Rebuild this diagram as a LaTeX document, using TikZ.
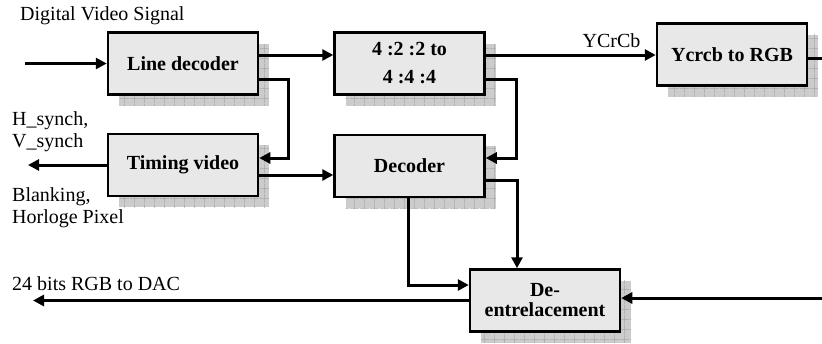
\documentclass[tikz,border=0pt]{standalone}
\usepackage{fontspec}
\setmainfont{Liberation Serif}
\usetikzlibrary{arrows.meta,patterns.meta}

\tikzdeclarepattern{
  name=shadowgrid,
  type=uncolored,
  bounding box={(0pt,0pt) and (10pt,10pt)},
  tile size={(10pt,10pt)},
  code={\draw[line width=0.7pt] (0pt,5pt) -- (10pt,5pt) (5pt,0pt) -- (5pt,10pt);}
}

\tikzset{
  block/.style={draw, line width=2.5pt, fill=gray!18, minimum width=150pt, minimum height=62pt,
    inner sep=2pt, align=center, font=\fontsize{20}{20}\selectfont\bfseries,
    preaction={fill=gray!40, transform canvas={shift={(11pt,-11pt)}}},
    preaction={pattern=shadowgrid, pattern color=gray!70, transform canvas={shift={(11pt,-11pt)}}}},
  sig/.style={line width=3pt, -{Triangle[length=11pt,width=11pt]}},
  lbl/.style={font=\fontsize{20}{22}\selectfont, inner sep=0pt, align=left}
}

\begin{document}
\begin{tikzpicture}[x=1pt, y=-1pt]
    \useasboundingbox (0,0) rectangle (822,343);

    % Blocks.
    \node[block] (line) at (183,63.5) {Line decoder};
    \node[block] (conv) at (409.5,63.5) {4 :2 :2 to\\[8pt]4 :4 :4};
    \node[block] (ycrcb) at (732,54.5) {Ycrcb to RGB};
    \node[block] (timing) at (183,165) {Timing video};
    \node[block] (dec) at (409.5,166) {Decoder};
    \node[block] (deint) at (545,300.5) {De-\\entrelacement};

    % Texts.
    \node[lbl, anchor=base west] (dvs) at (20,20) {Digital Video Signal};
    \node[lbl, anchor=west] (sync) at (12,131.5) {H\_synch,\\V\_synch};
    \node[lbl, anchor=west] (blank) at (12,208) {Blanking,\\Horloge Pixel};
    \node[lbl, anchor=base west] (dac) at (12,290.5) {24 bits RGB to DAC};

    % Free ends and corners.
    \coordinate (vin) at (25,63.5);
    \coordinate (sout) at (28,165);
    \coordinate (rgbout) at (33,300.5);
    \coordinate (rin) at (822,298);
    \coordinate (rgbend) at (822,58);
    \coordinate (k1) at (288,158);
    \coordinate (k2) at (516,158);

    % Signals.
    \draw[sig] (vin) -- (vin -| line.west);
    \draw[sig] ([yshift=8.5pt]line.east) -- ([yshift=8.5pt]conv.west);
    \draw[sig] ([yshift=-15.5pt]line.east) -| (k1) -- (k1 -| timing.east);
    \draw[sig] (timing.west) -- (sout);
    \coordinate (t2) at ([yshift=-10pt]timing.east);
    \draw[sig] (t2) -- (t2 -| dec.west);

    \coordinate (c1) at ([yshift=8.5pt]conv.east);
    \draw[sig] (c1) -- (c1 -| ycrcb.west)
        node[pos=0.74, above=6pt, lbl] (yc) {YCrCb};
    \coordinate (c2) at ([yshift=-15.5pt]conv.east);
    \draw[sig] (c2) -| (k2) -- (k2 -| dec.east);
    \coordinate (y1) at ([yshift=-3.5pt]ycrcb.east);
    \draw[line width=3pt] (y1) -- (y1 -| rgbend);

    \coordinate (d1) at ([xshift=-1.5pt]dec.south);
    \coordinate (d2) at ([yshift=15.5pt]deint.west);
    \draw[sig] (d1) |- (d2);
    \coordinate (d3) at ([yshift=-14pt]dec.east);
    \coordinate (d4) at ([xshift=-28pt]deint.north);
    \draw[sig] (d3) -| (d4);
    \draw[sig] (deint.west) -- (rgbout);
    \draw[sig] (rin) -- (rin -| deint.east);

\end{tikzpicture}
\end{document}
